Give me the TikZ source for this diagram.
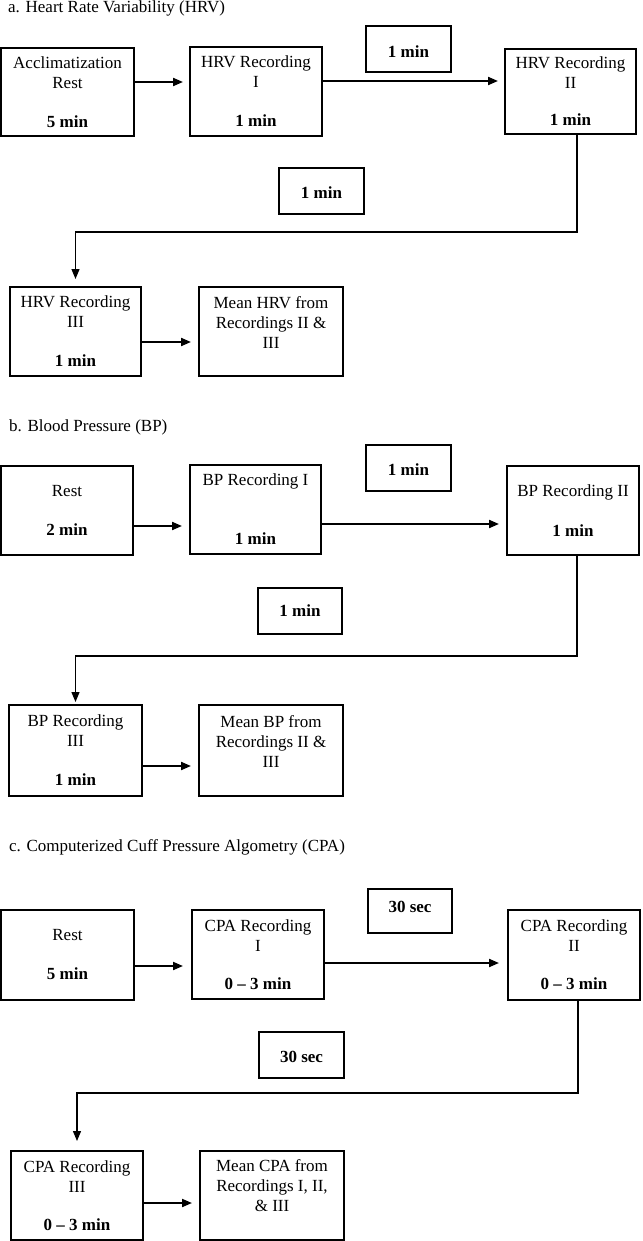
\documentclass[tikz,border=0pt]{standalone}
\usepackage{fontspec}
\setmainfont{Liberation Serif}
\usetikzlibrary{arrows.meta,calc}
\begin{document}
\begin{tikzpicture}[x=1pt,y=-1pt,
  every node/.style={font=\fontsize{17pt}{20pt}\selectfont, text=black},
  box/.style={draw=black, line width=2pt, inner sep=0pt, align=center},
  txt/.style={inner sep=0pt, align=center},
  arr/.style={draw=black, line width=2pt, -{Triangle[length=10pt,width=8pt]}},
  conn/.style={draw=black, line width=1.2pt, -{Triangle[length=10pt,width=8pt]}},
  ttl/.style={anchor=base west, inner sep=0pt}]
\fill[white] (0,0) rectangle (642,1241);
\useasboundingbox (0,0) rectangle (642,1241);

% ---------- a. HRV ----------
\node[ttl] (ta) at (8,13) {a. Heart Rate Variability (HRV)};
\node[box, minimum width=133pt, minimum height=88pt] (A1) at (67.5,92) {Acclimatization\\Rest\\[19pt]\textbf{5 min}};
\node[box, minimum width=132pt, minimum height=89pt] (A2) at (256,91.5) {HRV Recording\\I\\[19pt]\textbf{1 min}};
\node[box, minimum width=85pt, minimum height=46pt, text height=17.5pt] (T1) at (408.5,49) {\textbf{1 min}};
\node[box, minimum width=131pt, minimum height=85pt] (A3) at (570.5,91.5) {HRV Recording\\II\\[17pt]\textbf{1 min}};
\node[box, minimum width=85pt, minimum height=46pt, text height=15.5pt] (M1) at (321.5,191) {\textbf{1 min}};
\node[box, minimum width=131pt, minimum height=89pt] (A4) at (75.5,331.5) {HRV Recording\\III\\[19pt]\textbf{1 min}};
\node[box, minimum width=144pt, minimum height=89pt] (A5) at (271,331.5) {};
\node[txt] (A5t) at ([yshift=9pt]A5.center) {Mean HRV from\\Recordings II \&\\III};

\draw[arr, shorten >=6pt] ([yshift=10pt]A1.east) -- ([yshift=10pt]A1.east -| A2.west);
\draw[arr, shorten >=6pt] ([yshift=10.5pt]A2.east) -- ([yshift=10.5pt]A2.east -| A3.west);
\coordinate (aturn) at (0,232);
\draw[conn, shorten >=7pt] ([xshift=6.5pt]A3.south) |- (aturn -| A4.north) -- (A4.north);
\draw[arr, shorten >=7pt] ([yshift=-10.5pt]A4.east) -- ([yshift=-10.5pt]A4.east -| A5.west);

% ---------- b. BP ----------
\node[ttl] (tb) at (9,431) {b. Blood Pressure (BP)};
\node[box, minimum width=132pt, minimum height=89pt] (B1) at (67,510.5) {Rest\\[19pt]\textbf{2 min}};
\node[box, minimum width=131pt, minimum height=89pt] (B2) at (255.5,509.5) {BP Recording I\\[39pt]\textbf{1 min}};
\node[box, minimum width=85pt, minimum height=46pt, text height=15.5pt] (T2) at (408.5,468) {\textbf{1 min}};
\node[box, minimum width=132pt, minimum height=89pt] (B3) at (573,510.5) {BP Recording II\\[20pt]\textbf{1 min}};
\node[box, minimum width=84pt, minimum height=46pt] (M2) at (300,611) {\textbf{1 min}};
\node[box, minimum width=133pt, minimum height=91pt] (B4) at (75.5,750.5) {BP Recording\\III\\[19pt]\textbf{1 min}};
\node[box, minimum width=144pt, minimum height=91pt] (B5) at (271,750.5) {};
\node[txt] (B5t) at ([yshift=9pt]B5.center) {Mean BP from\\Recordings II \&\\III};

\draw[arr, shorten >=7pt] ([yshift=-15.5pt]B1.east) -- ([yshift=-15.5pt]B1.east -| B2.west);
\draw[arr, shorten >=7pt] ([yshift=-14.5pt]B2.east) -- ([yshift=-14.5pt]B2.east -| B3.west);
\coordinate (bturn) at (0,656);
\draw[conn, shorten >=2pt] ([xshift=4pt]B3.south) |- (bturn -| B4.north) -- (B4.north);
\draw[arr, shorten >=7pt] ([yshift=-15.5pt]B4.east) -- ([yshift=-15.5pt]B4.east -| B5.west);

% ---------- c. CPA ----------
\node[ttl] (tc) at (9,851) {c. Computerized Cuff Pressure Algometry (CPA)};
\node[box, minimum width=133pt, minimum height=90pt] (C1) at (67.5,955) {Rest\\[19pt]\textbf{5 min}};
\node[box, minimum width=132pt, minimum height=89pt] (C2) at (258,954.5) {CPA Recording\\I\\[18pt]\textbf{0 – 3 min}};
\node[box, minimum width=84pt, minimum height=44pt, text depth=9pt] (T3) at (410,911) {\textbf{30 sec}};
\node[box, minimum width=132pt, minimum height=90pt] (C3) at (574,955) {CPA Recording\\II\\[18pt]\textbf{0 – 3 min}};
\node[box, minimum width=85pt, minimum height=46pt, text height=15.5pt] (M3) at (301.5,1055) {\textbf{30 sec}};
\node[box, minimum width=132pt, minimum height=89pt] (C4) at (77,1195.5) {CPA Recording\\III\\[18pt]\textbf{0 – 3 min}};
\node[box, minimum width=144pt, minimum height=89pt] (C5) at (272,1195.5) {};
\node[txt] (C5t) at ([yshift=10pt]C5.center) {Mean CPA from\\Recordings I, II,\\\& III};

\draw[arr, shorten >=8pt] ([yshift=-11pt]C1.east) -- ([yshift=-11pt]C1.east -| C2.west);
\draw[arr, shorten >=8pt] ([yshift=-8.5pt]C2.east) -- ([yshift=-8.5pt]C2.east -| C3.west);
\coordinate (cturn) at (0,1093);
\draw[conn, shorten >=9pt] ([xshift=4pt]C3.south) |- (cturn -| C4.north) -- (C4.north);
\draw[arr, shorten >=7pt] ([yshift=-7.5pt]C4.east) -- ([yshift=-7.5pt]C4.east -| C5.west);
\end{tikzpicture}
\end{document}
